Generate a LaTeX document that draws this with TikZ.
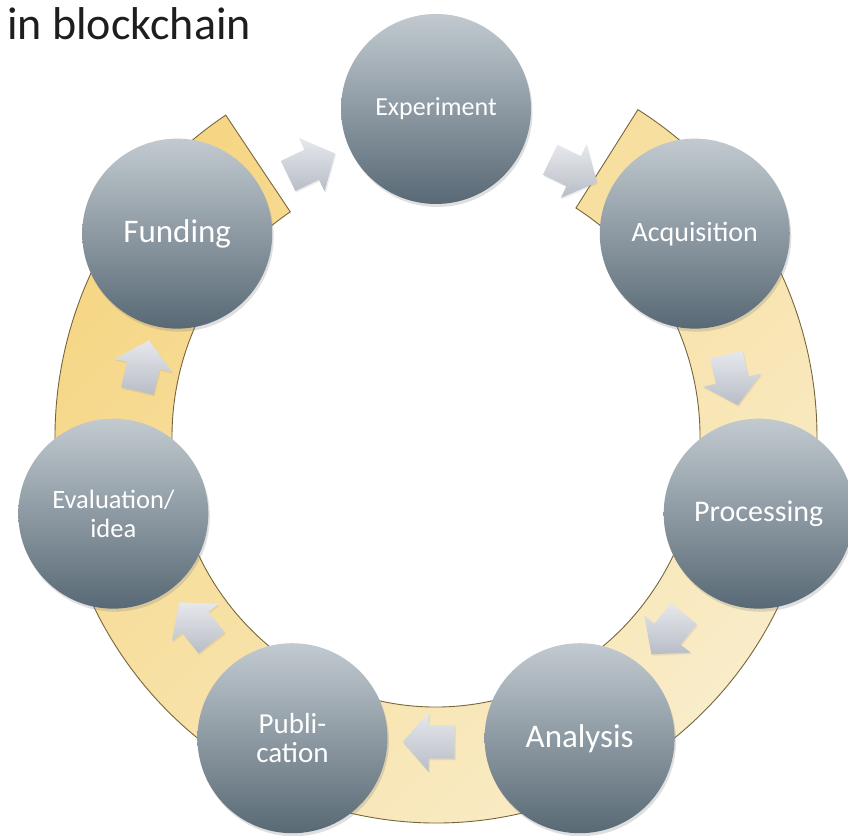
\documentclass[tikz,border=0pt]{standalone}
\usepackage{fontspec}
\setmainfont{Carlito}
\usepackage{tikz}
\usetikzlibrary{calc,shapes,shapes.arrows,shadows,backgrounds}

\definecolor{bandA}{RGB}{246,214,132}
\definecolor{bandB}{RGB}{249,237,204}
\definecolor{bandline}{RGB}{118,102,60}
\definecolor{stageTop}{RGB}{194,202,208}
\definecolor{stageMid}{RGB}{142,154,163}
\definecolor{stageBot}{RGB}{88,105,117}
\definecolor{flowTop}{RGB}{230,232,236}
\definecolor{flowBot}{RGB}{184,189,198}
\definecolor{titletext}{RGB}{30,30,30}

\begin{document}
\begin{tikzpicture}[x=1pt, y=1pt, lbl/.style={text=white, align=center}]
\tikzstyle{stage}=[circle, minimum size=190pt, inner sep=0pt, top color=stageTop, middle color=stageMid, bottom color=stageBot, drop shadow={opacity=0.25, shadow xshift=1.5pt, shadow yshift=-3pt}]
\tikzstyle{flow}=[single arrow, inner sep=16.5pt, minimum height=52pt, single arrow head extend=13pt, single arrow tip angle=98, top color=flowTop, bottom color=flowBot, drop shadow={opacity=0.15, shadow xshift=1pt, shadow yshift=-1.5pt}]
\fill[white] (0,0) rectangle (848,835);
\useasboundingbox (0,0) rectangle (848,835);
\coordinate (o) at (436,395);
\coordinate (r) at (436,398);
% yellow ring, open at the top
\draw[draw=bandline, line width=0.9pt, top color=bandA, bottom color=bandB, shading angle=45]
  ([shift={(123.5:381 and 386)}]r) arc[start angle=123.5, end angle=418, x radius=381, y radius=386]
  -- ([shift={(58:264 and 270)}]r) arc[start angle=418, end angle=123.5, x radius=264, y radius=270] -- cycle;
\foreach \a [count=\i] in {115.71,64.29,12.86,-38.57,-90,-141.43,167.14}{\node[flow, rotate=\a-90] (ar\i) at ([shift={(\a:302)}]o) {};}
\node[stage] (exp) at ([shift={(90:331)}]o) {};
\node[stage] (acq) at ([shift={(38.57:331)}]o) {};
\node[stage] (proc) at ([shift={(-12.86:331)}]o) {};
\node[stage] (ana) at ([shift={(-64.29:331)}]o) {};
\node[stage] (pub) at ([shift={(-115.71:331)}]o) {};
\node[stage] (eva) at ([shift={(-167.14:331)}]o) {};
\node[stage] (fund) at ([shift={(141.43:331)}]o) {};
\node[lbl, font=\fontsize{26}{29}\selectfont] at (exp) {Experiment};
\node[lbl, font=\fontsize{28}{30}\selectfont] at (acq) {Acquisition};
\node[lbl, font=\fontsize{30}{32}\selectfont] at (proc) {Processing};
\node[lbl, font=\fontsize{33}{35}\selectfont] at (ana) {Analysis};
\node[lbl, font=\fontsize{29}{29}\selectfont] at (pub) {Publi-\\cation};
\node[lbl, font=\fontsize{26.5}{29}\selectfont] at (eva) {Evaluation/\\idea};
\node[lbl, font=\fontsize{33}{35}\selectfont] at (fund) {Funding};
\node[anchor=base west, inner sep=0pt, text=titletext, font=\fontsize{46}{50}\selectfont] (title) at (7,795) {in blockchain};
\end{tikzpicture}
\end{document}
